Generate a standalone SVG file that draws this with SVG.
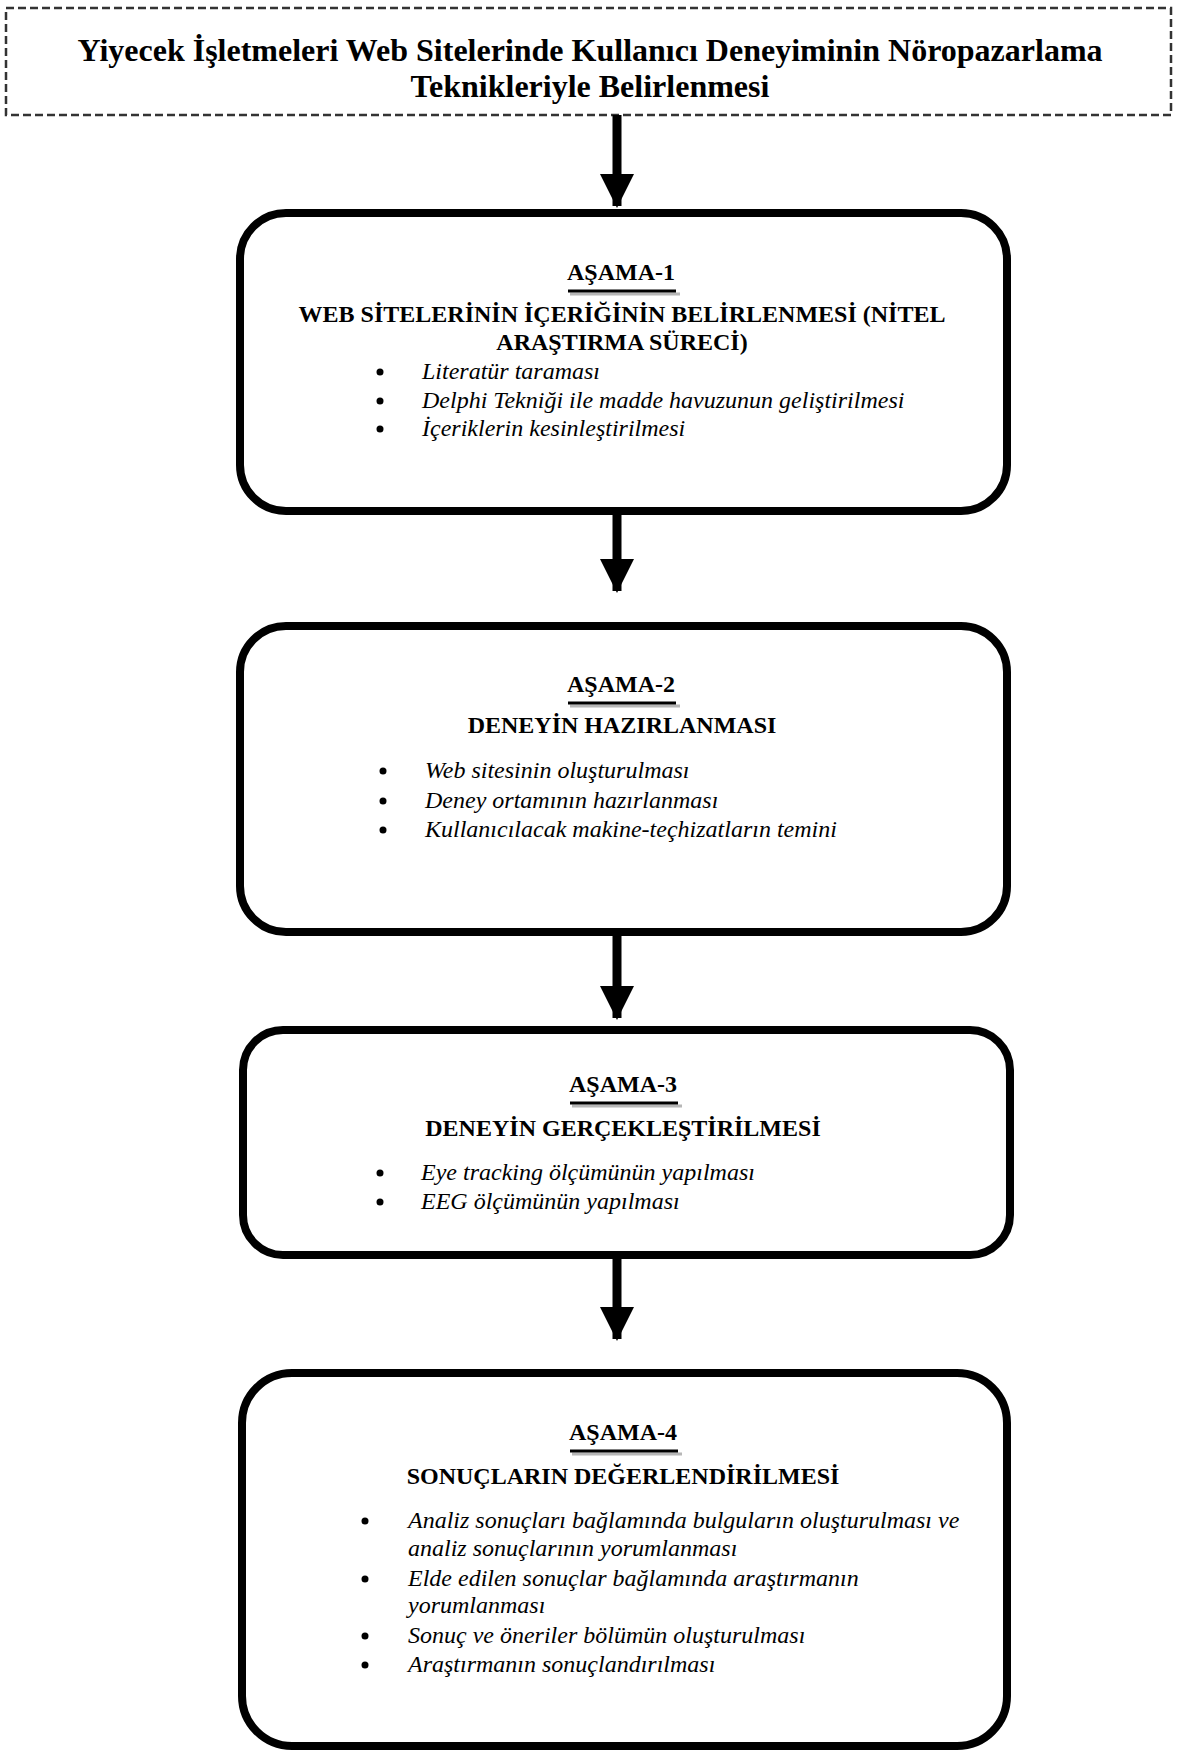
<svg xmlns="http://www.w3.org/2000/svg" width="1177" height="1750" viewBox="0 0 1177 1750">
<style>
.title{font-family:"Liberation Serif","Times New Roman",serif;font-weight:bold;font-size:32px;fill:#000;text-anchor:middle}
.stage{font-family:"Liberation Serif","Times New Roman",serif;font-weight:bold;font-size:24px;fill:#000;text-anchor:middle}
.head{font-family:"Liberation Serif","Times New Roman",serif;font-weight:bold;font-size:24px;fill:#000;text-anchor:middle}
.item{font-family:"Liberation Serif","Times New Roman",serif;font-style:italic;font-size:24px;fill:#000}
.box{fill:#fff;stroke:#000;stroke-width:8}
.ul{stroke:#000;stroke-width:3}
.ulsh{stroke:#888;stroke-width:3;opacity:0.6}
.conn{stroke:#000;stroke-width:9;fill:none}
</style>
<defs>
<marker id="ah" markerUnits="userSpaceOnUse" markerWidth="34" markerHeight="42" refX="32" refY="17" orient="auto">
<path d="M0,0 L34,17 L0,34 Z" fill="#000"/>
</marker>
</defs>
<rect width="1177" height="1750" fill="#fff"/>

<g id="title">
<rect x="6" y="8" width="1165" height="107" fill="#fff" stroke="#333" stroke-width="2.5" stroke-dasharray="8,4"/>
<text class="title" x="590" y="61">Yiyecek İşletmeleri Web Sitelerinde Kullanıcı Deneyiminin Nöropazarlama</text>
<text class="title" x="590" y="97">Teknikleriyle Belirlenmesi</text>
</g>

<g id="connectors">
<line class="conn" x1="617" y1="115" x2="617" y2="206" marker-end="url(#ah)"/>
<line class="conn" x1="617" y1="515" x2="617" y2="591" marker-end="url(#ah)"/>
<line class="conn" x1="617" y1="936" x2="617" y2="1018" marker-end="url(#ah)"/>
<line class="conn" x1="617" y1="1259" x2="617" y2="1339" marker-end="url(#ah)"/>
</g>

<g id="stage1">
<rect class="box" x="240" y="213" width="767" height="298" rx="46"/>
<text class="stage" x="621" y="280">AŞAMA-1</text>
<line class="ulsh" x1="570" y1="294" x2="680" y2="294"/>
<line class="ul" x1="568" y1="291" x2="676" y2="291"/>
<text class="head" x="622" y="322">WEB SİTELERİNİN İÇERİĞİNİN BELİRLENMESİ (NİTEL</text>
<text class="head" x="622" y="350">ARAŞTIRMA SÜRECİ)</text>
<circle cx="380" cy="372" r="3.5"/>
<text class="item" x="422" y="379">Literatür taraması</text>
<circle cx="380" cy="401" r="3.5"/>
<text class="item" x="422" y="408">Delphi Tekniği ile madde havuzunun geliştirilmesi</text>
<circle cx="380" cy="429" r="3.5"/>
<text class="item" x="422" y="436">İçeriklerin kesinleştirilmesi</text>
</g>

<g id="stage2">
<rect class="box" x="240" y="626" width="767" height="306" rx="46"/>
<text class="stage" x="621" y="692">AŞAMA-2</text>
<line class="ulsh" x1="570" y1="706" x2="680" y2="706"/>
<line class="ul" x1="568" y1="703" x2="676" y2="703"/>
<text class="head" x="622" y="733">DENEYİN HAZIRLANMASI</text>
<circle cx="383" cy="771" r="3.5"/>
<text class="item" x="425" y="778">Web sitesinin oluşturulması</text>
<circle cx="383" cy="801" r="3.5"/>
<text class="item" x="425" y="808">Deney ortamının hazırlanması</text>
<circle cx="383" cy="830" r="3.5"/>
<text class="item" x="425" y="837">Kullanıcılacak makine-teçhizatların temini</text>
</g>

<g id="stage3">
<rect class="box" x="243" y="1030" width="767" height="225" rx="40"/>
<text class="stage" x="623" y="1092">AŞAMA-3</text>
<line class="ulsh" x1="572" y1="1106" x2="682" y2="1106"/>
<line class="ul" x1="570" y1="1103" x2="678" y2="1103"/>
<text class="head" x="623" y="1136">DENEYİN GERÇEKLEŞTİRİLMESİ</text>
<circle cx="380" cy="1173" r="3.5"/>
<text class="item" x="421" y="1180">Eye tracking ölçümünün yapılması</text>
<circle cx="380" cy="1202" r="3.5"/>
<text class="item" x="421" y="1209">EEG ölçümünün yapılması</text>
</g>

<g id="stage4">
<rect class="box" x="242" y="1373" width="765" height="373" rx="50"/>
<text class="stage" x="623" y="1440">AŞAMA-4</text>
<line class="ulsh" x1="572" y1="1454" x2="682" y2="1454"/>
<line class="ul" x1="570" y1="1451" x2="678" y2="1451"/>
<text class="head" x="623" y="1484">SONUÇLARIN DEĞERLENDİRİLMESİ</text>
<circle cx="365" cy="1521" r="3.5"/>
<text class="item" x="408" y="1528">Analiz sonuçları bağlamında bulguların oluşturulması ve</text>
<text class="item" x="408" y="1556">analiz sonuçlarının yorumlanması</text>
<circle cx="365" cy="1579" r="3.5"/>
<text class="item" x="408" y="1586">Elde edilen sonuçlar bağlamında araştırmanın</text>
<text class="item" x="408" y="1613">yorumlanması</text>
<circle cx="365" cy="1636" r="3.5"/>
<text class="item" x="408" y="1643">Sonuç ve öneriler bölümün oluşturulması</text>
<circle cx="365" cy="1665" r="3.5"/>
<text class="item" x="408" y="1672">Araştırmanın sonuçlandırılması</text>
</g>
</svg>
